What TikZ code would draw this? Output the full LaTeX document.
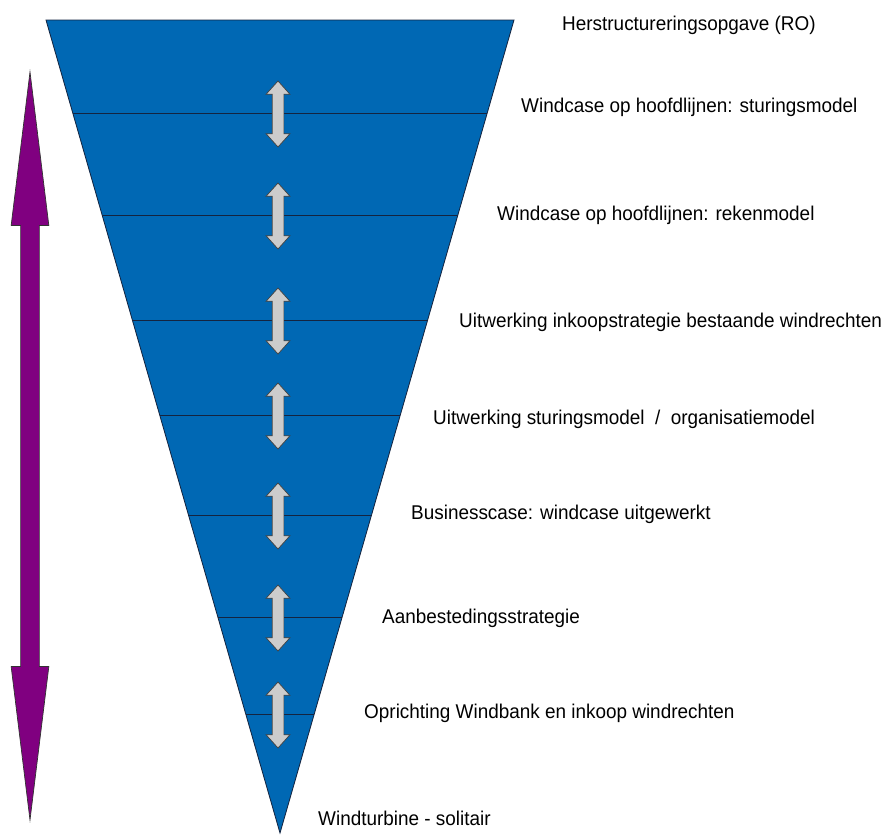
\documentclass[tikz,border=0pt]{standalone}
\usepackage{fontspec}
\setmainfont{Liberation Sans}
\usetikzlibrary{calc,shapes.arrows}
\definecolor{funnelblue}{RGB}{0,104,180}
\definecolor{edgeblue}{RGB}{20,36,64}
\definecolor{arrowgray}{RGB}{204,204,204}
\definecolor{spanpurple}{RGB}{128,0,128}
\tikzset{%
	funnel/.style = {fill=funnelblue, draw=edgeblue, line width=0.7pt},
	level/.style  = {draw=edgeblue, line width=0.8pt},
	link/.style   = {double arrow, draw=black!75, fill=arrowgray, line width=0.6pt, rotate=90, inner xsep=0pt, inner ysep=0.165cm,
	                 minimum height=1.98cm, double arrow head extend=0.18cm, double arrow tip angle=84},
	span/.style   = {double arrow, draw=black!80, fill=spanpurple, line width=0.6pt, rotate=90, inner xsep=0pt, inner ysep=0.27cm,
	                 minimum height=22.44cm, double arrow head extend=0.285cm, double arrow tip angle=14},
	stage/.style  = {anchor=west, inner sep=0pt, xscale=0.95, font=\fontsize{17}{20}\selectfont},
}
\begin{document}
\begin{tikzpicture}[x=0.03cm,y=-0.03cm]
	\useasboundingbox (0,0) rectangle (890,836);
	\coordinate (tl) at (46,20);
	\coordinate (tr) at (514,20);
	\coordinate (apex) at (280,833);
	\draw[funnel] (tl) -- (tr) -- (apex) -- cycle;
	\foreach \y [count=\i] in {113,215,320,415,515,617,714} {
		\draw[level] ($(tl)!{(\y-20)/813}!(apex)$) -- ($(tr)!{(\y-20)/813}!(apex)$);
		\node[link] (link\i) at (278,\y+1) {};
	}
	\node[span] (span) at (30,446) {};
	\foreach \x/\y/\t [count=\i] in {562/25/{Herstructureringsopgave (RO)},
			521/107/{Windcase op hoofdlijnen: sturingsmodel},
			497/215/{Windcase op hoofdlijnen: rekenmodel},
			459/322/{Uitwerking inkoopstrategie bestaande windrechten},
			433/419/{Uitwerking sturingsmodel\ \ /\ \ organisatiemodel},
			411/514/{Businesscase: windcase uitgewerkt},
			382/618/{Aanbestedingsstrategie},
			364/713/{Oprichting Windbank en inkoop windrechten},
			318/818/{Windturbine - solitair}}
		\node[stage] (stage\i) at (\x,\y) {\t};
\end{tikzpicture}
\end{document}
